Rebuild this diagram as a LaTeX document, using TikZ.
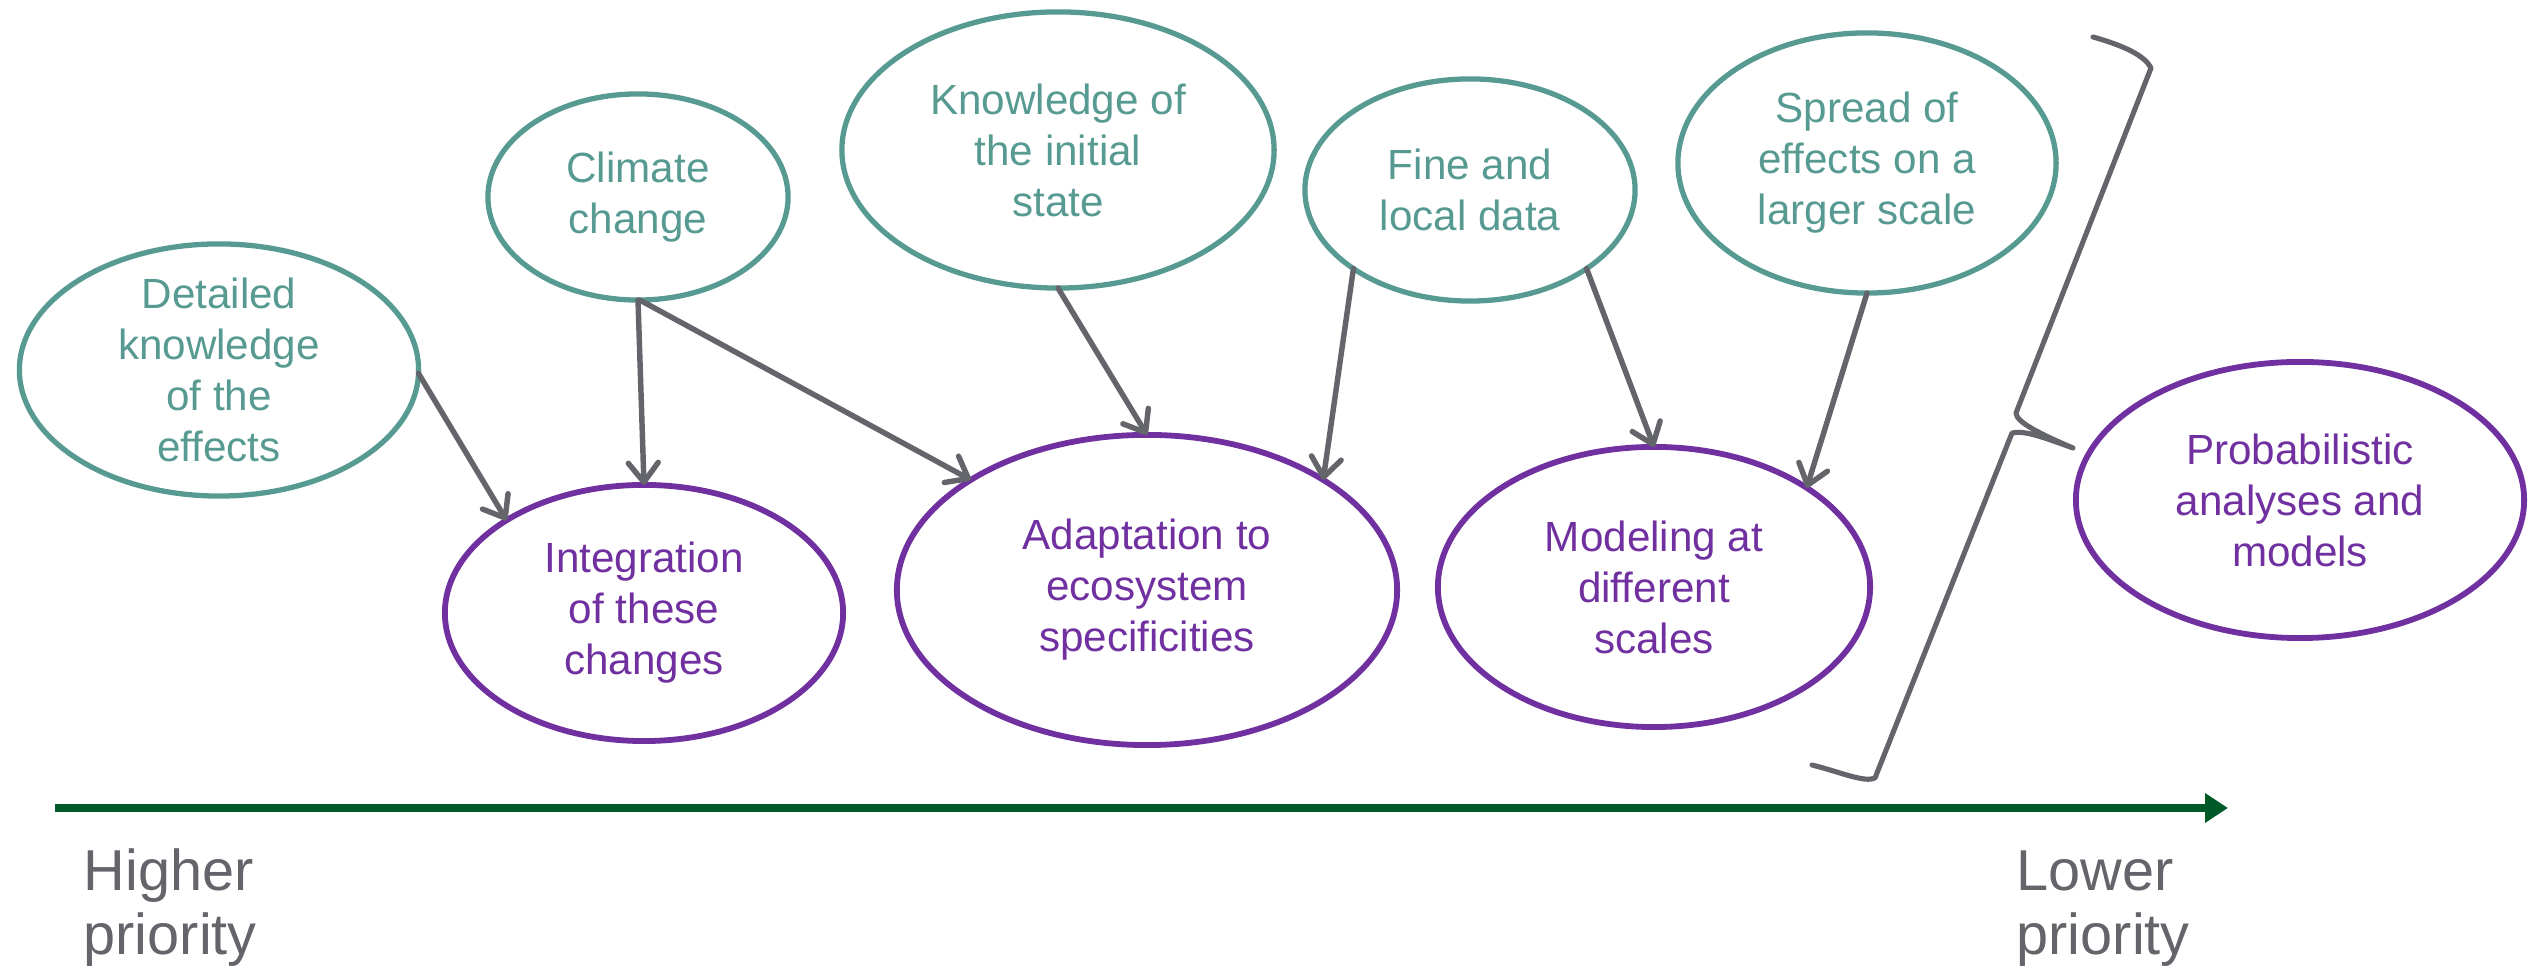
\documentclass[tikz,border=0pt]{standalone}
\usepackage{fontspec}
\setmainfont{Liberation Sans}
\usetikzlibrary{shapes.geometric, arrows.meta}
\definecolor{tealline}{RGB}{87,154,146}
\definecolor{purp}{RGB}{112,48,160}
\definecolor{greyline}{RGB}{99,101,106}
\definecolor{axisgreen}{RGB}{0,90,40}

\begin{document}
\begin{tikzpicture}[x=0.01cm, y=-0.01cm,
  oval/.style={ellipse, draw, line width=1.5pt, inner sep=0pt, outer sep=0pt,
    align=center, font=\fontsize{12}{14.5}\selectfont},
  cause/.style={oval, draw=tealline, text=tealline},
  goal/.style={oval, draw=purp, text=purp, line width=1.65pt},
  link/.style={draw=greyline, line width=1.55pt, line cap=round,
    -{Straight Barb[length=5.5pt,width=8.5pt,round]}},
  prio/.style={font=\fontsize{16.4}{19}\selectfont, text=greyline, inner sep=0pt, anchor=base west},
  brace/.style={draw=greyline, line width=1.45pt, line cap=round, line join=round}
]
\useasboundingbox (0,0) rectangle (2535,968);

% influencing factors
\node[cause, minimum width=3.99cm, minimum height=2.52cm, inner ysep=-3mm] (det) at (219,370)
  {Detailed\\knowledge\\of the\\effects};
\node[cause, minimum width=3.00cm, minimum height=2.06cm] (clim) at (638,197) {Climate\\change};
\node[cause, minimum width=4.32cm, minimum height=2.76cm] (know) at (1058,150)
  {Knowledge of\\the initial\\state};
\node[cause, minimum width=3.30cm, minimum height=2.22cm] (fine) at (1470,190) {Fine and\\local data};
\node[cause, minimum width=3.78cm, minimum height=2.60cm] (spread) at (1867,163)
  {Spread of\\effects on a\\larger scale};

% research goals
\node[goal, minimum width=3.98cm, minimum height=2.56cm] (integ) at (644,613)
  {Integration\\of these\\changes};
\node[goal, minimum width=5.00cm, minimum height=3.10cm] (adapt) at (1147,590)
  {Adaptation to\\ecosystem\\specificities};
\node[goal, minimum width=4.32cm, minimum height=2.80cm] (model) at (1654,587)
  {Modeling at\\different\\scales};
\node[goal, minimum width=4.48cm, minimum height=2.76cm] (prob) at (2300,500)
  {Probabilistic\\analyses and\\models};

% dependencies
\draw[link] (det.-1) -- (integ.146.8);
\draw[link] (clim.south) -- (integ.north);
\draw[link] (clim.-89) -- (adapt.148.6);
\draw[link] (know.south) -- (adapt.north);
\draw[link] (fine.214.9) -- (adapt.32);
\draw[link] (fine.-34.7) -- (model.north);
\draw[link] (spread.south) -- (model.33.4);

% grouping brace
\draw[brace]
  (2093,37) .. controls (2125,46) and (2145,56) .. (2151,68)
  -- (2016,413) .. controls (2016,422) and (2040,434) .. (2073,448)
  .. controls (2045,438) and (2025,430) .. (2012,433)
  -- (1875,778) .. controls (1865,783) and (1840,772) .. (1812,765);

% priority axis
\coordinate (axstart) at (55,808);
\coordinate (axend) at (2228,808);
\draw[axisgreen, line width=2.3pt, -{Triangle[length=6.5pt,width=8pt]}] (axstart) -- (axend);
\node[prio] (hi1) at (83,891) {Higher};
\node[prio] (hi2) at (83,955) {priority};
\node[prio] (lo1) at (2016,891) {Lower};
\node[prio] (lo2) at (2016,955) {priority};
\end{tikzpicture}
\end{document}
